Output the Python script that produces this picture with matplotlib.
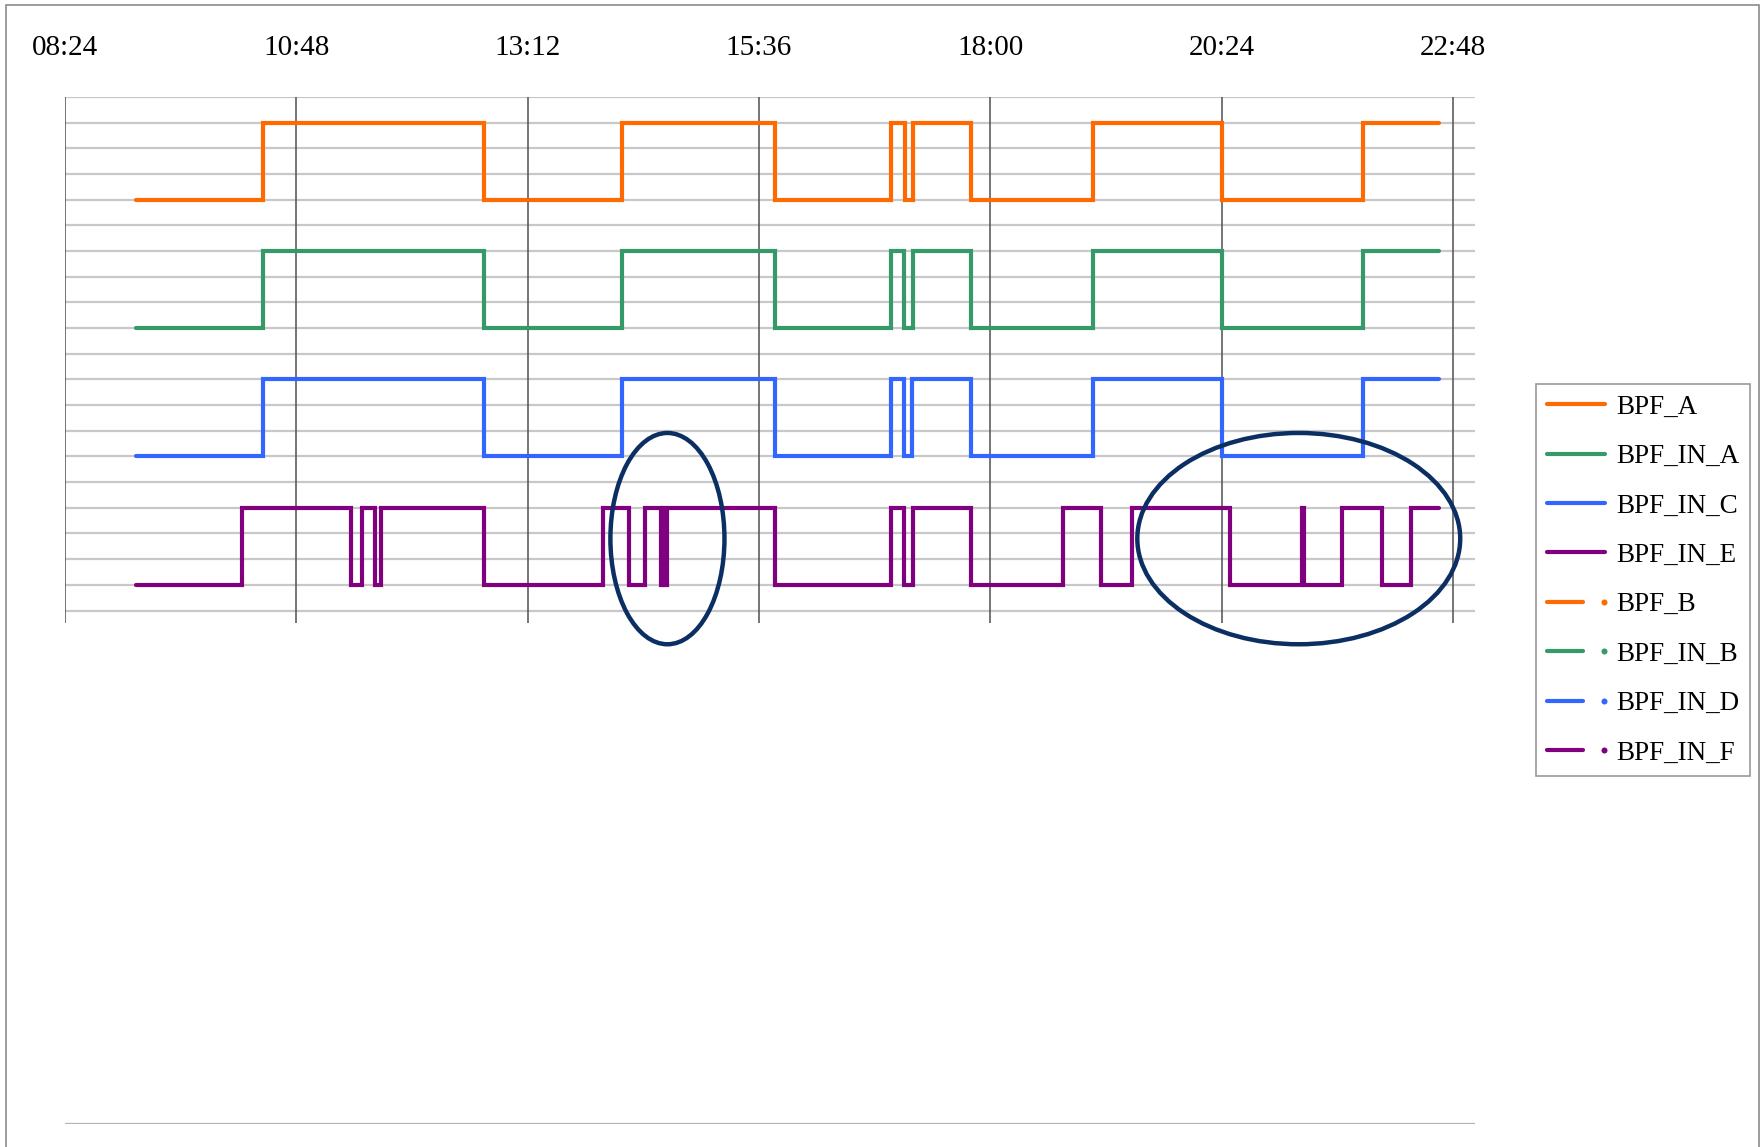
import matplotlib
matplotlib.use("Agg")
import matplotlib.pyplot as plt
from matplotlib.patches import Ellipse, Rectangle
from matplotlib.lines import Line2D
from matplotlib.legend_handler import HandlerBase

# ---------------- Data ----------------
tick_labels = ["08:24", "10:48", "13:12", "15:36", "18:00", "20:24", "22:48"]

bpf_a_times = ["09:08", "10:27", "12:45", "14:11", "15:46", "16:58", "17:07", "17:12", "17:48",
               "19:04", "20:24", "21:52", "22:39"]
bpf_a_states = [0, 1, 0, 1, 0, 1, 0, 1, 0, 1, 0, 1, 1]

bpf_in_a_times = ["09:08", "10:27", "12:45", "14:11", "15:46", "16:58", "17:06", "17:12", "17:48",
                  "19:04", "20:24", "21:52", "22:39"]
bpf_in_a_states = [0, 1, 0, 1, 0, 1, 0, 1, 0, 1, 0, 1, 1]

bpf_in_c_times = ["09:08", "10:27", "12:45", "14:11", "15:46", "16:58", "17:06", "17:11", "17:48",
                  "19:04", "20:24", "21:52", "22:39"]
bpf_in_c_states = [0, 1, 0, 1, 0, 1, 0, 1, 0, 1, 0, 1, 1]

bpf_in_e_times = ["09:08", "10:14", "11:22", "11:29", "11:37", "11:41", "12:45", "13:59", "14:15",
                  "14:25", "14:35", "14:36", "14:37", "14:39", "15:46", "16:58", "17:06", "17:12",
                  "17:48", "18:45", "19:09", "19:28", "20:29", "21:14", "21:15", "21:39", "22:04",
                  "22:22", "22:39"]
bpf_in_e_states = [0, 1, 0, 1, 0, 1, 0, 1, 0, 1, 0, 1, 0, 1, 0, 1, 0, 1, 0, 1, 0, 1, 0, 1, 0, 1, 0, 1, 1]

# highlighted regions (centre time, width in minutes)
highlight_centres = ["14:39", "21:12"]
highlight_widths = [71, 201]

def to_min(s):
    h, m = s.split(":")
    return int(h) * 60 + int(m)

# ---------------- Style ----------------
plt.rcParams["font.family"] = ["Liberation Serif", "DejaVu Serif"]

c_orange = "#ff6a00"
c_green = "#36996a"
c_blue = "#3366ff"
c_purple = "#800080"
c_ring = "#0c2f63"
LW = 3.0

class DotLineHandler(HandlerBase):
    # short line followed by a dot, like the empty series in the legend
    def create_artists(self, legend, orig, xdescent, ydescent, width, height, fontsize, trans):
        y = height / 2 - ydescent
        col = orig.get_color()
        seg = Line2D([-xdescent, -xdescent + width * 0.63], [y, y], color=col, lw=LW,
                     solid_capstyle="round", transform=trans)
        dot = Line2D([-xdescent + width * 0.985], [y], color=col, ls="none", marker="o",
                     ms=LW * 1.45, mew=0, transform=trans)
        return [seg, dot]

W, H = 1763, 1147
fig = plt.figure(figsize=(W / 100, H / 100), dpi=100)
ax = fig.add_axes([65 / W, 1 - 1124 / H, (1475 - 65) / W, (1124 - 97) / H])

ticks = [to_min(t) for t in tick_labels]
x0, x1 = ticks[0], ticks[0] + 877.7
ax.set_xlim(x0, x1)
ax.set_ylim(40, 0)

# grid
ax.hlines(range(0, 21), x0, x1, color="#c8c8c8", lw=1.6, zorder=1)
ax.hlines(40, x0, x1, color="#b4b4b4", lw=1.6, zorder=1)
ax.vlines(ticks, 0, 20.5, color="#505050", lw=1.1, zorder=2)

# ---------------- Signals ----------------
series = [
    ("BPF_A", bpf_a_times, bpf_a_states, c_orange),
    ("BPF_IN_A", bpf_in_a_times, bpf_in_a_states, c_green),
    ("BPF_IN_C", bpf_in_c_times, bpf_in_c_states, c_blue),
    ("BPF_IN_E", bpf_in_e_times, bpf_in_e_states, c_purple),
]
for i, (name, times, states, col) in enumerate(series):
    base = 4 + 5 * i
    xs = [to_min(t) for t in times]
    ys = [base - 3 * s for s in states]
    ax.plot(xs, ys, drawstyle="steps-post", color=col, lw=LW,
            solid_capstyle="round", solid_joinstyle="miter", zorder=3)

for c, w in zip(highlight_centres, highlight_widths):
    ax.add_patch(Ellipse((to_min(c), 17.2), w, 8.23, fill=False, edgecolor=c_ring,
                         lw=3.2, zorder=4, clip_on=False))

# ---------------- Axes ----------------
ax.set_xticks(ticks)
ax.set_xticklabels(tick_labels)
ax.set_yticks([])
ax.tick_params(axis="x", top=True, labeltop=True, bottom=False, labelbottom=False,
               length=0, pad=26, labelsize=21)
for sp in ax.spines.values():
    sp.set_visible(False)

# ---------------- Legend ----------------
handles = []
for name, col in [("BPF_A", c_orange), ("BPF_IN_A", c_green), ("BPF_IN_C", c_blue), ("BPF_IN_E", c_purple)]:
    handles.append(Line2D([], [], color=col, lw=LW, solid_capstyle="round", label=name))
dot_handles = []
for name, col in [("BPF_B", c_orange), ("BPF_IN_B", c_green), ("BPF_IN_D", c_blue), ("BPF_IN_F", c_purple)]:
    h = Line2D([], [], color=col, lw=LW, label=name)
    handles.append(h)
    dot_handles.append(h)

leg = fig.legend(handles=handles, loc="upper left", bbox_to_anchor=(1536 / W, 1 - 384 / H),
                 fontsize=19.5, frameon=True, fancybox=False, handlelength=2.13,
                 handletextpad=0.42, labelspacing=0.9, borderpad=0.4, borderaxespad=0,
                 handler_map={h: DotLineHandler() for h in dot_handles})
leg.get_frame().set_edgecolor("#808080")
leg.get_frame().set_linewidth(1.2)

# outer chart border
fig.patches.append(Rectangle((5.5 / W, -0.05), (1759 - 5.5) / W, 1.05 - 5.5 / H,
                             transform=fig.transFigure, fill=False, edgecolor="#8a8a8a", lw=1.2))

fig.savefig("out.png", dpi=100)
